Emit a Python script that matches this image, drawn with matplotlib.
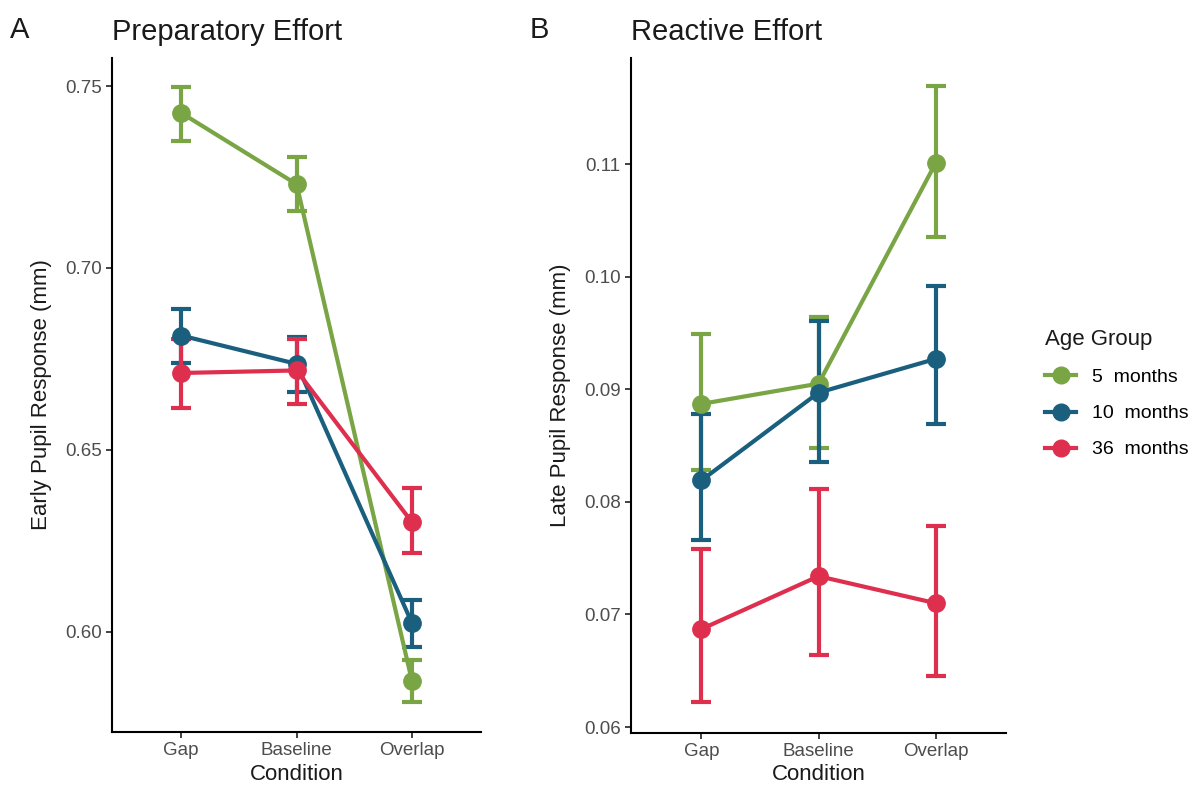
import matplotlib.pyplot as plt
from matplotlib.lines import Line2D
import numpy as np

plt.rcParams['font.family'] = ['Liberation Sans', 'DejaVu Sans']

conditions = ['Gap', 'Baseline', 'Overlap']
groups = ['5  months', '10  months', '36  months']
colors = ['#79A545', '#1B5F7F', '#DE2F4F']

# panel A - early pupil response (mm)
early_mean = [[0.7426, 0.7230, 0.5865],
              [0.6814, 0.6736, 0.6024],
              [0.6711, 0.6718, 0.6301]]
early_lo = [[0.7349, 0.7156, 0.5807],
            [0.6739, 0.6660, 0.5959],
            [0.6614, 0.6626, 0.6215]]
early_hi = [[0.7497, 0.7304, 0.5923],
            [0.6886, 0.6810, 0.6086],
            [0.6805, 0.6805, 0.6396]]

# panel B - late pupil response (mm)
late_mean = [[0.0887, 0.0905, 0.1101],
             [0.0819, 0.0897, 0.0927],
             [0.0687, 0.0734, 0.0710]]
late_lo = [[0.0828, 0.0848, 0.1035],
           [0.0766, 0.0835, 0.0869],
           [0.0622, 0.0664, 0.0645]]
late_hi = [[0.0949, 0.0964, 0.1169],
           [0.0878, 0.0961, 0.0992],
           [0.0758, 0.0811, 0.0779]]

fig = plt.figure(figsize=(11.92, 7.87), dpi=100)
axA = fig.add_axes([0.094, 0.0699, 0.3096, 0.8564])
axB = fig.add_axes([0.5294, 0.069, 0.3146, 0.857])


def draw_panel(ax, means, lo, hi, ylim, yticks, fmt, ylabel, title):
    x = np.arange(1, len(conditions) + 1)
    for m, l, h, c in zip(means, lo, hi, colors):
        m = np.array(m)
        err = [m - np.array(l), np.array(h) - m]
        ax.errorbar(x, m, yerr=err, color=c, lw=3, marker='o', ms=12.5,
                    capsize=7, capthick=3, elinewidth=3)
    ax.set_xlim(0.4, 3.6)
    ax.set_ylim(*ylim)
    ax.set_xticks(x)
    ax.set_xticklabels(conditions)
    ax.set_yticks(yticks)
    ax.set_yticklabels([fmt.format(v) for v in yticks])
    for s in ['top', 'right']:
        ax.spines[s].set_visible(False)
    for s in ['left', 'bottom']:
        ax.spines[s].set_linewidth(1.5)
    ax.tick_params(labelsize=13.5, labelcolor='#4D4D4D', length=4, width=1.3,
                   color='#333333')
    ax.set_xlabel('Condition', fontsize=16, color='#1A1A1A', labelpad=3)
    ax.set_ylabel(ylabel, fontsize=16, color='#1A1A1A', labelpad=9)
    ax.set_title(title, fontsize=21, color='#1A1A1A', loc='left', pad=13)


draw_panel(axA, early_mean, early_lo, early_hi, (0.5724, 0.7577),
           [0.60, 0.65, 0.70, 0.75], '{:.2f}',
           'Early Pupil Response (mm)', 'Preparatory Effort')
draw_panel(axB, late_mean, late_lo, late_hi, (0.0595, 0.1194),
           [0.06, 0.07, 0.08, 0.09, 0.10, 0.11], '{:.2f}',
           'Late Pupil Response (mm)', 'Reactive Effort')

fig.text(0.008, 0.962, 'A', fontsize=21, color='#1A1A1A', va='center')
fig.text(0.444, 0.962, 'B', fontsize=21, color='#1A1A1A', va='center')

handles = [Line2D([0], [0], color=c, lw=3, marker='o', ms=12) for c in colors]
leg = fig.legend(handles, groups, title='Age Group', loc='upper left',
                 bbox_to_anchor=(0.862, 0.604), frameon=False, fontsize=14,
                 title_fontsize=16, handlelength=1.6, labelspacing=0.95,
                 alignment='left')
leg.get_title().set_color('#1A1A1A')

fig.savefig('out.png', dpi=100)
